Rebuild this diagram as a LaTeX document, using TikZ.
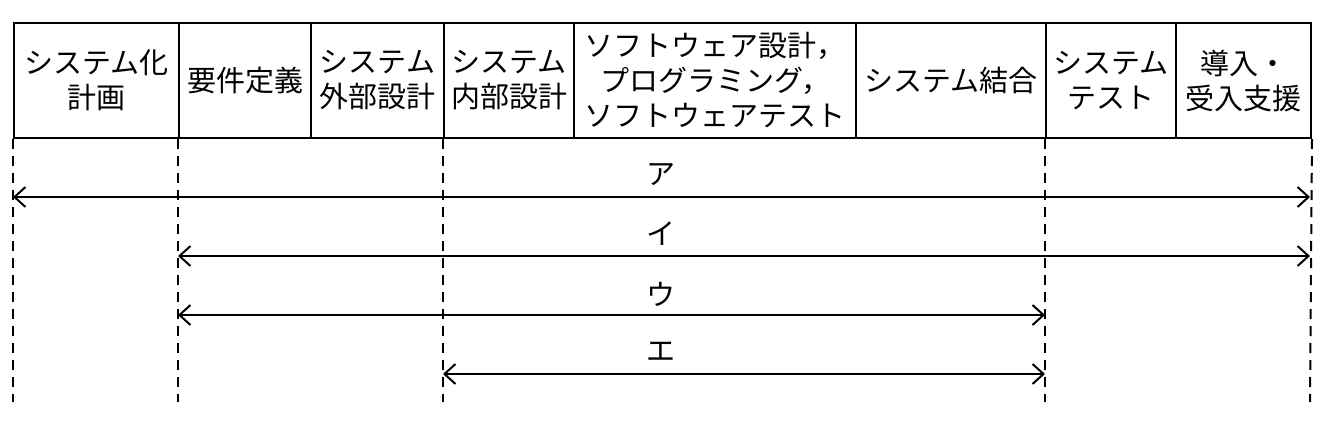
\documentclass[tikz,border=0pt]{standalone}
\usepackage{fontspec}
\newfontfamily\jpfont{Noto Sans CJK JP}
\usetikzlibrary{arrows.meta}

\begin{document}
\begin{tikzpicture}
      [x = 1pt, y = -1pt,
      cell/.style= {
         draw,
         line width = 2pt,
         anchor = north west,
         inner sep = 0pt,
         minimum height = 115pt,
         align = center,
         font = \jpfont\fontsize{29}{35}\selectfont
      },
      guide/.style= {
         dash pattern = on 10pt off 7pt,
         line width = 2pt
      },
      term/.style= {
         {Straight Barb[length = 11pt, width = 20pt]}-{Straight Barb[length = 11pt, width = 20pt]},
         line width = 2pt
      },
      tag/.style= {
         inner sep = 0pt,
         font = \jpfont\fontsize{29}{35}\selectfont
      }]
      \useasboundingbox (0, 0) rectangle (1322, 424);

      \node[cell, minimum width = 165pt] (plan) at (13, 22) {システム化\\計画};
      \node[cell, minimum width = 132pt] (req) at (178, 22) {要件定義};
      \node[cell, minimum width = 133pt] (ext) at (310, 22) {システム\\外部設計};
      \node[cell, minimum width = 130pt] (int) at (443, 22) {システム\\内部設計};
      \node[cell, minimum width = 282pt] (soft) at (573, 22) {ソフトウェア設計，\\プログラミング，\\ソフトウェアテスト};
      \node[cell, minimum width = 190pt] (comb) at (855, 22) {システム結合};
      \node[cell, minimum width = 130pt] (test) at (1045, 22) {システム\\テスト};
      \node[cell, minimum width = 135pt] (intro) at (1175, 22) {導入・\\受入支援};

      \coordinate (g1) at (13, 402);
      \coordinate (g2) at (178, 402);
      \coordinate (g3) at (443, 402);
      \coordinate (g4) at (1045, 402);
      \coordinate (g5) at (1310, 402);
      \draw[guide] (plan.south west) -- (g1);
      \draw[guide] (req.south west) -- (g2);
      \draw[guide] (int.south west) -- (g3);
      \draw[guide] (test.south west) -- (g4);
      \draw[guide] (intro.south east) -- (g5);

      \coordinate (aL) at (13, 197);
      \coordinate (aR) at (1310, 197);
      \coordinate (iL) at (178, 256);
      \coordinate (iR) at (1310, 256);
      \coordinate (uL) at (178, 315);
      \coordinate (uR) at (1045, 315);
      \coordinate (eL) at (443, 374);
      \coordinate (eR) at (1045, 374);
      \draw[term] (aL) -- (aR);
      \draw[term] (iL) -- (iR);
      \draw[term] (uL) -- (uR);
      \draw[term] (eL) -- (eR);

      \node[tag] (ta) at (661, 175) {ア};
      \node[tag] (ti) at (661, 234) {イ};
      \node[tag] (tu) at (661, 294) {ウ};
      \node[tag] (te) at (661, 352) {エ};

   \end{tikzpicture}
\end{document}
